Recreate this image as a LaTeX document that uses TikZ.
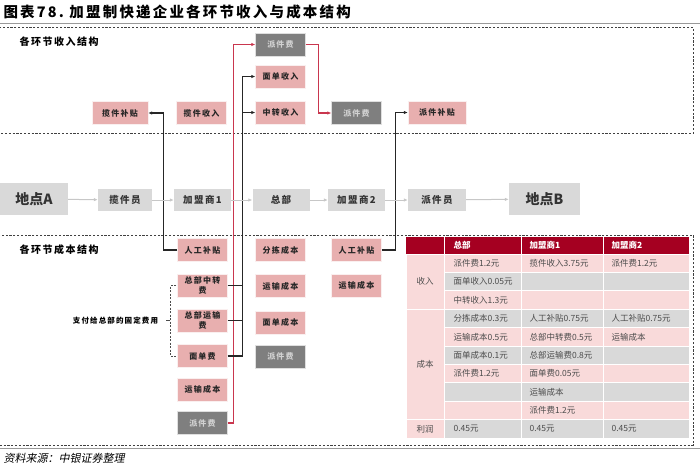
\documentclass[tikz,border=0pt]{standalone}
\usepackage{fontspec}
\newfontfamily\cjk{Noto Sans CJK SC}
\newfontfamily\cjkbox{Noto Sans CJK SC}[LetterSpace=15]
\newfontfamily\cjkit{Noto Sans CJK SC}[FakeSlant=0.2]
\usetikzlibrary{arrows.meta}
\definecolor{boxpink}{HTML}{E8AFAF}
\definecolor{boxgray}{HTML}{7F7F7F}
\definecolor{flowgray}{HTML}{D9D9D9}
\definecolor{linkred}{HTML}{C9364E}
\definecolor{headred}{HTML}{A50021}
\definecolor{rowpink}{HTML}{F9DADA}
\definecolor{rowgray}{HTML}{D9D9D9}

\begin{document}
\begin{tikzpicture}[x=1pt, y=-1pt, >={Latex[length=4pt,width=3.5pt]}]
  \tikzset{
    inbox/.style={fill=boxpink, draw=white!80!boxpink, minimum width=50pt, minimum height=23pt,
      inner sep=1pt, align=center, text=black!85, font=\cjkbox\bfseries\fontsize{8}{9.5}\selectfont},
    feebox/.style={inbox, fill=boxgray, draw=white!75!boxgray, text=white!82!black},
    flowbox/.style={fill=flowgray, minimum width=56pt, minimum height=22pt, inner sep=1pt,
      text=black!80, font=\cjkbox\bfseries\fontsize{9.5}{10}\selectfont},
    placebox/.style={flowbox, minimum width=70pt, minimum height=32pt, font=\cjk\bfseries\fontsize{14}{15}\selectfont},
    flow/.style={->, draw=black!22, line width=1pt},
    link/.style={->, draw=black!85, line width=1.2pt},
    redlink/.style={->, draw=linkred, line width=1.3pt},
    frame/.style={draw=black!75, line width=0.7pt, dash pattern=on 2.2pt off 1.6pt},
    section/.style={anchor=west, font=\cjkbox\bfseries\fontsize{10}{11}\selectfont},
    cell/.style={anchor=west, text=black!70, font=\cjk\fontsize{8.5}{10}\selectfont},
    headcell/.style={anchor=west, text=white, font=\cjk\bfseries\fontsize{8.5}{10}\selectfont}
  }
  \useasboundingbox (0,0) rectangle (700,466);

  % title and rules
  \node[anchor=west, font=\cjkbox\bfseries\fontsize{14.5}{15}\selectfont] (title) at (0,12)
    {图表78.\ 加盟制快递企业各环节收入与成本结构};
  \draw[line width=1.6pt, black!40] (0,23.5) -- (700,23.5);
  \draw[line width=1.6pt, black!40] (0,448.5) -- (700,448.5);
  \node[anchor=west, font=\cjkit\fontsize{11}{12}\selectfont] (source) at (0,458) {资料来源：中银证券整理};

  % dashed frames
  \draw[frame] (-3,27.5) rectangle (693,133.5);
  \draw[frame] (-3,235) rectangle (693,445);
  \node[section] (inlabel) at (16,42) {各环节收入结构};
  \node[section] (costlabel) at (16,250) {各环节成本结构};

  % revenue boxes
  \node[feebox]  (pjtop) at (280.5,44.5)  {派件费};
  \node[inbox]   (mdsr)  at (280.5,76.5)  {面单收入};
  \node[inbox]   (zzsr)  at (280.5,112.5) {中转收入};
  \node[inbox, minimum width=56pt] (ljbt) at (120,113) {揽件补贴};
  \node[inbox]   (ljsr)  at (201.5,113)   {揽件收入};
  \node[feebox]  (pjmid) at (356.5,113)   {派件费};
  \node[inbox, minimum width=58pt] (pjbt) at (437,112.5) {派件补贴};

  % cost boxes
  \node[inbox]  (rgbt1) at (202.5,250)   {人工补贴};
  \node[inbox]  (zbzz)  at (202.5,285.5) {总部中转\\费};
  \node[inbox]  (zbys)  at (202.5,320.5) {总部运输\\费};
  \node[inbox]  (mdf)   at (202.5,356)   {面单费};
  \node[inbox]  (ysc1)  at (202.5,389.5) {运输成本};
  \node[feebox] (pjc)   at (202.5,423)   {派件费};
  \node[inbox]  (fjcb)  at (280.5,250)   {分拣成本};
  \node[inbox]  (ysc2)  at (280.5,286)   {运输成本};
  \node[inbox]  (mdcb)  at (280.5,322.5) {面单成本};
  \node[feebox] (pjf)   at (280.5,356.5) {派件费};
  \node[inbox]  (rgbt2) at (356.5,250)   {人工补贴};
  \node[inbox]  (ysc3)  at (356.5,285.5) {运输成本};

  % links from costs to revenues
  \draw[redlink] (pjc.east) -- ++(5.5,0) |- (pjtop.west);
  \draw[redlink] (pjtop.east) -- ++(13,0) |- (pjmid.west);
  \draw[link] (mdf.east) -- ++(14.5,0) coordinate (trunk) |- (mdsr.west);
  \draw[link] (trunk |- zzsr.west) -- (zzsr.west);
  \draw[draw=black!85, line width=1pt] (zbzz.east) -- (trunk |- zbzz.east);
  \draw[draw=black!85, line width=1pt] (zbys.east) -- (trunk |- zbys.east);
  \draw[link] (rgbt1.west) -- ++(-14,0) |- (ljbt.east);
  \draw[link] (rgbt2.east) -- ++(14,0) |- (pjbt.west);

  % fixed fees paid to hq
  \draw[black!70, line width=0.7pt, dash pattern=on 2pt off 1.5pt]
    ([xshift=-1pt]zbzz.west) -- ++(-6,0) coordinate (brace) -- (brace |- mdf.west) -- ([xshift=-1pt]mdf.west);
  \draw[black!70, line width=0.7pt] (brace |- zbys.west) -- ++(-4,0) coordinate (bracetip);
  \node[anchor=east, font=\cjkbox\bfseries\fontsize{7.5}{9}\selectfont, inner sep=2pt] (fixed)
    at ([xshift=-6pt]bracetip) {支付给总部的固定费用};

  % main flow
  \node[placebox, minimum width=68pt] (A) at (34,199) {地点A};
  \node[flowbox, minimum width=54pt] (ljy) at (125,200) {揽件员};
  \node[flowbox, minimum width=57pt] (jm1) at (202.5,200) {加盟商1};
  \node[flowbox, minimum width=57pt] (zb)  at (281,200)   {总部};
  \node[flowbox, minimum width=57pt] (jm2) at (356.5,200) {加盟商2};
  \node[flowbox, minimum width=58pt] (pjy) at (437,200)   {派件员};
  \node[placebox, minimum width=71pt] (B) at (544.5,199) {地点B};
  \draw[flow] (A) -- (ljy);
  \draw[flow] (ljy) -- (jm1);
  \draw[flow] (jm1) -- (zb);
  \draw[flow] (zb) -- (jm2);
  \draw[flow] (jm2) -- (pjy);
  \draw[flow] (pjy) -- (B);

  % table
  \fill[headred] (406,237) rectangle (689,253.5);
  \foreach \x in {444,521,603}
    \draw[white, line width=1pt] (\x,237) -- (\x,253.5);
  \node[headcell] (h1) at (450,245) {总部};
  \node[headcell] (h2) at (526,245) {加盟商1};
  \node[headcell] (h3) at (608,245) {加盟商2};
  \foreach \r in {1,...,10} {
    \pgfmathsetmacro{\top}{254+(\r-1)*18.4}
    \pgfmathtruncatemacro{\odd}{mod(\r,2)}
    \ifnum\odd=1 \def\rowcol{rowpink}\else \def\rowcol{rowgray}\fi
    \filldraw[fill=\rowcol, draw=white, line width=1pt] (444,\top) rectangle (521,\top+18.4);
    \filldraw[fill=\rowcol, draw=white, line width=1pt] (521,\top) rectangle (603,\top+18.4);
    \filldraw[fill=\rowcol, draw=white, line width=1pt] (603,\top) rectangle (689,\top+18.4);
  }
  \filldraw[fill=rowpink, draw=white, line width=1pt] (406,254) rectangle (444,309.2);
  \filldraw[fill=rowpink, draw=white, line width=1pt] (406,309.2) rectangle (444,419.6);
  \filldraw[fill=rowpink, draw=white, line width=1pt] (406,419.6) rectangle (444,438);
  \node[cell, anchor=center] (srlabel) at (425,281.6) {收入};
  \node[cell, anchor=center] (cblabel) at (425,364.4) {成本};
  \node[cell, anchor=center] (lrlabel) at (425,428.8) {利润};
  \foreach \r/\x/\t in {1/450/派件费1.2元, 1/526/揽件收入3.75元, 1/608/派件费1.2元,
      2/450/面单收入0.05元, 3/450/中转收入1.3元,
      4/450/分拣成本0.3元, 4/526/人工补贴0.75元, 4/608/人工补贴0.75元,
      5/450/运输成本0.5元, 5/526/总部中转费0.5元, 5/608/运输成本,
      6/450/面单成本0.1元, 6/526/总部运输费0.8元,
      7/450/派件费1.2元, 7/526/面单费0.05元,
      8/526/运输成本, 9/526/派件费1.2元,
      10/450/0.45元, 10/526/0.45元, 10/608/0.45元}
    \node[cell] (v\r-\x) at (\x,{254+(\r-0.5)*18.4}) {\t};
\end{tikzpicture}
\end{document}
